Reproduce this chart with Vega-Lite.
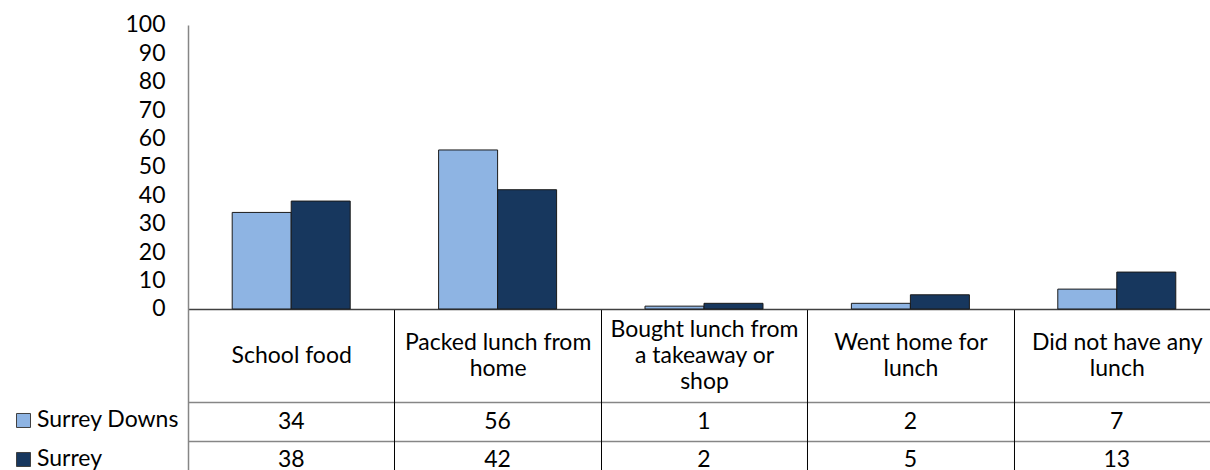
{
  "$schema": "https://vega.github.io/schema/vega-lite/v6.json",
  "width": 1032,
  "height": 454.4,
  "autosize": "none",
  "padding": {"left": 188, "top": 25, "right": 0, "bottom": 0},
  "background": "white",
  "config": {
    "font": "Lato",
    "view": {"stroke": null}
  },
  "data": {
    "values": [
      {"category": "School food", "series": "Surrey Downs", "value": 34},
      {"category": "School food", "series": "Surrey", "value": 38},
      {"category": "Packed lunch from home", "series": "Surrey Downs", "value": 56},
      {"category": "Packed lunch from home", "series": "Surrey", "value": 42},
      {"category": "Bought lunch from a takeaway or shop", "series": "Surrey Downs", "value": 1},
      {"category": "Bought lunch from a takeaway or shop", "series": "Surrey", "value": 2},
      {"category": "Went home for lunch", "series": "Surrey Downs", "value": 2},
      {"category": "Went home for lunch", "series": "Surrey", "value": 5},
      {"category": "Did not have any lunch", "series": "Surrey Downs", "value": 7},
      {"category": "Did not have any lunch", "series": "Surrey", "value": 13}
    ]
  },
  "resolve": {"scale": {"y": "shared"}, "axis": {"y": "independent"}},
  "encoding": {
    "x": {
      "field": "category",
      "type": "nominal",
      "sort": null,
      "scale": {
        "domain": ["School food", "Packed lunch from home", "Bought lunch from a takeaway or shop", "Went home for lunch", "Did not have any lunch"],
        "paddingInner": 0,
        "paddingOuter": 0
      },
      "axis": {
        "orient": "bottom",
        "offset": -170.4,
        "title": null,
        "domain": true,
        "domainColor": "#404040",
        "domainWidth": 1.5,
        "ticks": true,
        "tickBand": "extent",
        "tickSize": 170.4,
        "tickColor": "#000000",
        "tickWidth": 1,
        "grid": false,
        "labelAngle": 0,
        "labelBaseline": {"condition": {"test": "datum.value == 'Packed lunch from home' || datum.value == 'Went home for lunch' || datum.value == 'Did not have any lunch'", "value": "line-top"}, "value": "middle"},
        "labelPadding": {"condition": {"test": "datum.value == 'School food'", "value": -123.4}, "value": -149.4},
        "labelFontSize": 23,
        "labelLineHeight": 26,
        "labelColor": "#000000",
        "labelOverlap": false,
        "labelLimit": 0,
        "labelExpr": "datum.label == 'Packed lunch from home' ? ['Packed lunch from', 'home'] : datum.label == 'Bought lunch from a takeaway or shop' ? ['Bought lunch from', 'a takeaway or', 'shop'] : datum.label == 'Went home for lunch' ? ['Went home for', 'lunch'] : datum.label == 'Did not have any lunch' ? ['Did not have any', 'lunch'] : datum.label"
      }
    }
  },
  "layer": [
    {
      "mark": {"type": "bar", "stroke": "#1a1a1a", "strokeWidth": 1},
      "encoding": {
        "y": {
          "field": "value",
          "type": "quantitative",
          "scale": {"domain": [-60, 100], "nice": false, "zero": false},
          "axis": {
            "title": null,
            "values": [0, 10, 20, 30, 40, 50, 60, 70, 80, 90, 100],
            "domain": true,
            "domainColor": "#868686",
            "domainWidth": 1.5,
            "ticks": false,
            "grid": false,
            "labelPadding": 23,
            "labelFontSize": 23,
            "labelColor": "#000000",
            "labelBaseline": "middle",
            "labelFlush": false,
            "labelOverlap": false
          }
        },
        "xOffset": {
          "field": "series",
          "type": "nominal",
          "sort": ["Surrey Downs", "Surrey"],
          "scale": {"paddingInner": 0, "paddingOuter": 0.749}
        },
        "color": {
          "field": "series",
          "type": "nominal",
          "sort": ["Surrey Downs", "Surrey"],
          "scale": {"domain": ["Surrey Downs", "Surrey"], "range": ["#8EB4E3", "#17375E"]},
          "legend": {
            "orient": "none",
            "legendX": -176,
            "legendY": 384,
            "title": null,
            "direction": "vertical",
            "symbolType": "square",
            "symbolSize": 196,
            "symbolStrokeColor": "#404040",
            "symbolStrokeWidth": 1,
            "symbolOpacity": 1,
            "labelFontSize": 23,
            "labelColor": "#000000",
            "labelOffset": 2,
            "rowPadding": 15,
            "padding": 0,
            "labelLimit": 0
          }
        }
      }
    },
    {
      "transform": [{"filter": "datum.series == 'Surrey Downs'"}],
      "mark": {"type": "text", "dy": 113, "baseline": "middle", "align": "center", "fontSize": 23, "color": "#000000"},
      "encoding": {
        "y": {
          "datum": 0,
          "type": "quantitative",
          "scale": {"domain": [-60, 100], "nice": false, "zero": false},
          "axis": {
            "title": null,
            "values": [-46.4, -32.9],
            "domain": false,
            "labels": false,
            "ticks": true,
            "tickSize": 179,
            "tickColor": "#868686",
            "tickWidth": 1.5,
            "grid": true,
            "gridColor": "#868686",
            "gridWidth": 1.5,
            "gridOpacity": 1
          }
        },
        "text": {"field": "value", "type": "quantitative"}
      }
    },
    {
      "transform": [{"filter": "datum.series == 'Surrey'"}],
      "mark": {"type": "text", "dy": 151, "baseline": "middle", "align": "center", "fontSize": 23, "color": "#000000"},
      "encoding": {
        "y": {"datum": 0, "type": "quantitative", "scale": {"domain": [-60, 100], "nice": false, "zero": false}, "axis": null},
        "text": {"field": "value", "type": "quantitative"}
      }
    }
  ]
}
